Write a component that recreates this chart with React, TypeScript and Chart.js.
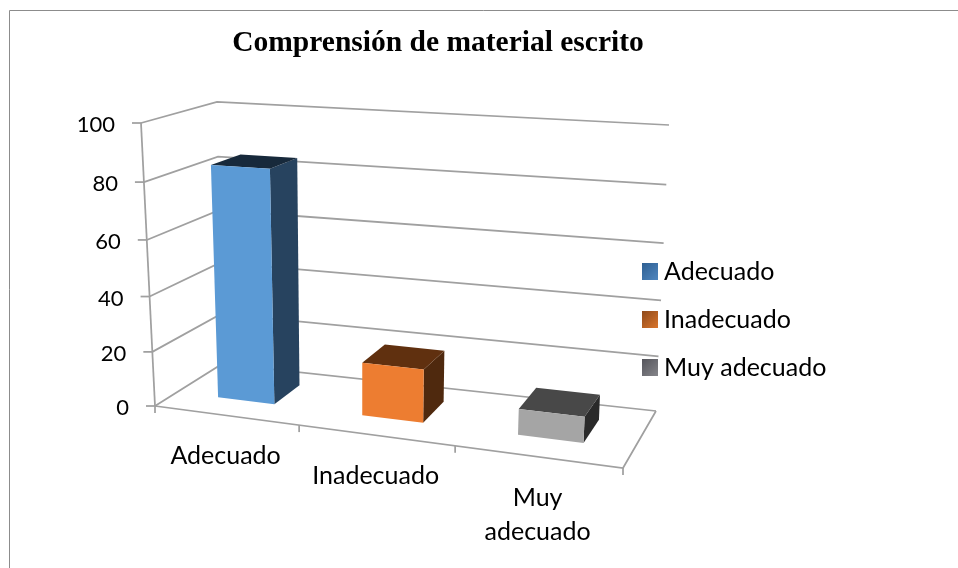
import React, { useEffect, useRef } from "react";
import { Chart, registerables } from "chart.js";

Chart.register(...registerables);

const titleText = "Comprensión de material escrito";
const categories = ["Adecuado", "Inadecuado", "Muy adecuado"];
const values = [84, 19, 9];
const frontColors = ["#5B9AD5", "#ED7D31", "#A5A5A5"];
const sideColors = ["#27435F", "#4F290E", "#2A2A2A"];
const topColors = ["#17293B", "#60300F", "#484848"];
const swatchStart = ["#2E5F92", "#8F4A1B", "#55555B"];
const swatchEnd = ["#4F86BF", "#D9752C", "#85858A"];

const FONT = "Lato, Carlito, sans-serif";
const GRID = "#a0a0a0";

// Corners of the 3D box on screen
const FL0 = [155, 406], FL1 = [141, 123];
const BL0 = [222, 364], BL1 = [217, 102];
const BR0 = [656, 411], BR1 = [669, 125];
const FR0 = [623, 468], FR1 = [640, 148];
const BAR_W0 = 0.33, BAR_W1 = 0.75;

function project(u: number, w: number, vRaw: number): [number, number] {
  const a = u - 0.114 * u * (1 - u);
  const v = vRaw - 0.055 * vRaw * (1 - vRaw);
  const bil = (fl: number[], fr: number[], bl: number[], br: number[], i: number) =>
    (1 - a) * (1 - w) * fl[i] + a * (1 - w) * fr[i] + (1 - a) * w * bl[i] + a * w * br[i];
  const px = (i: number) =>
    bil(FL0, FR0, BL0, BR0, i) * (1 - v) + bil(FL1, FR1, BL1, BR1, i) * v;
  return [px(0), px(1)];
}

function swatch(i: number) {
  const c = document.createElement("canvas");
  c.width = 16;
  c.height = 17;
  const x = c.getContext("2d")!;
  const g = x.createLinearGradient(0, 0, 16, 17);
  g.addColorStop(0, swatchStart[i]);
  g.addColorStop(1, swatchEnd[i]);
  x.fillStyle = g;
  x.fillRect(0, 0, 16, 17);
  return c;
}

const threeD = {
  id: "threeD",
  afterLayout(chart: any) {
    const title = chart.titleBlock;
    title.left = 0;
    title.right = 876;
    const lg = chart.legend;
    const h = lg.bottom - lg.top;
    lg.top = 319.5 - h / 2;
    lg.bottom = 319.5 + h / 2;
    const w = lg.right - lg.left;
    lg.left = 625.5;
    lg.right = 625.5 + w;
  },
  beforeDatasetsDraw(chart: any) {
    const ctx: CanvasRenderingContext2D = chart.ctx;
    const xs = chart.scales.x;
    const ys = chart.scales.y;
    const uOf = (px: number) => (px - xs.left) / (xs.right - xs.left);
    const vOf = (py: number) => (ys.bottom - py) / (ys.bottom - ys.top);

    const line = (pts: [number, number][]) => {
      ctx.beginPath();
      pts.forEach((p, i) => (i ? ctx.lineTo(p[0], p[1]) : ctx.moveTo(p[0], p[1])));
      ctx.stroke();
    };
    const face = (pts: [number, number][], color: string) => {
      ctx.beginPath();
      pts.forEach((p, i) => (i ? ctx.lineTo(p[0], p[1]) : ctx.moveTo(p[0], p[1])));
      ctx.closePath();
      ctx.fillStyle = color;
      ctx.fill();
    };

    ctx.save();
    // outer frame: only the top and left edges show
    ctx.strokeStyle = "#8c8c8c";
    ctx.lineWidth = 1;
    line([[9.5, 568], [9.5, 10.5], [958, 10.5]]);

    ctx.strokeStyle = GRID;
    ctx.lineWidth = 1.75;
    // walls, one line per tick of the value scale
    ys.ticks.forEach((t: any) => {
      const v = vOf(ys.getPixelForValue(t.value));
      line([project(0, 0, v), project(0, 1, v), project(1, 1, v)]);
      const p = project(0, 0, v);
      line([[p[0] - 9, p[1]], p]);
    });
    // value axis and floor
    line([project(0, 0, 0), project(0, 0, 1)]);
    line([project(0, 0, 0), project(1, 0, 0), project(1, 1, 0)]);
    // category ticks
    const n = categories.length;
    for (let i = 0; i <= n; i++) {
      const p = project(i / n, 0, 0);
      line([p, [p[0], p[1] + 7]]);
    }

    // text of the axes
    ctx.fillStyle = "#000";
    ctx.textBaseline = "middle";
    ctx.font = `22px ${FONT}`;
    ctx.textAlign = "right";
    ys.ticks.forEach((t: any) => {
      const p = project(0, 0, vOf(ys.getPixelForValue(t.value)));
      ctx.fillText(String(t.value), p[0] - 26, p[1] + 2);
    });
    ctx.font = `25px ${FONT}`;
    ctx.textAlign = "center";
    categories.forEach((c, i) => {
      const p = project(uOf(xs.getPixelForTick(i)), 0, 0);
      const lines = ctx.measureText(c).width > 150 ? c.split(" ") : [c];
      lines.forEach((l, k) => ctx.fillText(l, p[0], p[1] + 41 + k * 34));
    });

    // bars
    const meta = chart.getDatasetMeta(0);
    meta.data.forEach((el: any, i: number) => {
      const u0 = uOf(el.x - el.width / 2);
      const u1 = uOf(el.x + el.width / 2);
      const v0 = vOf(el.base);
      const v1 = vOf(el.y);
      face(
        [project(u1, BAR_W0, v0), project(u1, BAR_W1, v0), project(u1, BAR_W1, v1), project(u1, BAR_W0, v1)],
        sideColors[i]
      );
      face(
        [project(u0, BAR_W0, v1), project(u1, BAR_W0, v1), project(u1, BAR_W1, v1), project(u0, BAR_W1, v1)],
        topColors[i]
      );
      face(
        [project(u0, BAR_W0, v0), project(u1, BAR_W0, v0), project(u1, BAR_W0, v1), project(u0, BAR_W0, v1)],
        frontColors[i]
      );
    });
    ctx.restore();
    return false;
  },
};

export default function App() {
  const ref = useRef<HTMLCanvasElement>(null);
  useEffect(() => {
    const canvas = ref.current!;
    const chart = new Chart(canvas, {
      type: "bar",
      data: {
        labels: categories,
        datasets: [
          {
            label: titleText,
            data: values,
            backgroundColor: frontColors,
            barPercentage: 0.4,
            categoryPercentage: 1,
          },
        ],
      },
      options: {
        responsive: false,
        animation: false,
        layout: { padding: { right: 107, bottom: 163 } },
        scales: {
          x: { display: false },
          y: { display: false, min: 0, max: 100, ticks: { stepSize: 20 } },
        },
        plugins: {
          tooltip: { enabled: false },
          title: {
            display: true,
            text: titleText,
            color: "#000",
            font: { family: "'Liberation Serif', serif", size: 29.5, weight: "bold" },
            padding: { top: 26, bottom: 18 },
          },
          legend: {
            display: true,
            position: "right",
            labels: {
              color: "#000",
              font: { family: FONT, size: 25 },
              usePointStyle: true,
              boxWidth: 3,
              boxHeight: 3,
              padding: 23,
              generateLabels: () =>
                categories.map((c, i) => ({
                  text: c,
                  pointStyle: swatch(i),
                  fillStyle: swatchEnd[i],
                  strokeStyle: "transparent",
                  lineWidth: 0,
                  hidden: false,
                  index: i,
                  datasetIndex: 0,
                })) as any,
            },
          },
        },
      },
      plugins: [threeD],
    } as any);
    return () => chart.destroy();
  }, []);
  return (
    <div style={{ position: "absolute", left: 0, top: 0, width: 958, height: 568, background: "#fff" }}>
      <canvas ref={ref} width={958} height={568} style={{ display: "block" }} />
    </div>
  );
}
